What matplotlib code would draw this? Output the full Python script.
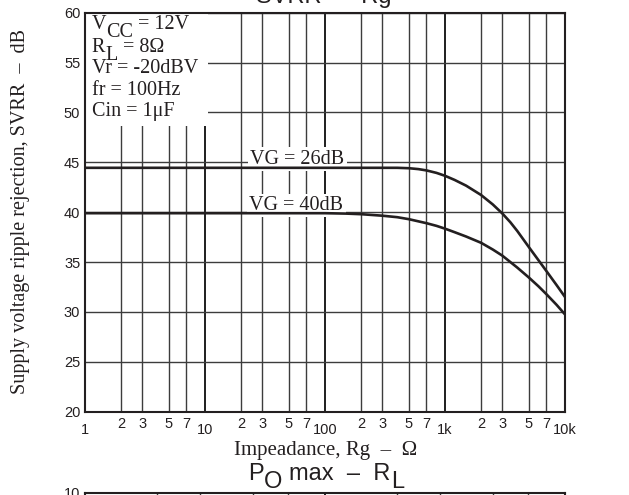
import matplotlib
matplotlib.use('Agg')
import matplotlib.pyplot as plt
from matplotlib.patches import Rectangle

SERIF = 'Liberation Serif'
SANS = 'Liberation Sans'
W, H = 629, 495

# ---- data ----
rg_26 = [1, 10, 100, 200, 300, 400, 500, 600, 700, 850, 1000, 1200, 1500, 2000, 2500, 3000,
         3500, 4000, 5000, 6000, 7000, 8500, 10000]
svrr_vg26 = [44.45, 44.45, 44.45, 44.45, 44.45, 44.45, 44.41, 44.32, 44.19, 43.94, 43.65, 43.24,
             42.66, 41.72, 40.78, 39.88, 39.0, 38.12, 36.5, 35.2, 34.1, 32.7, 31.5]
rg_40 = [1, 10, 100, 150, 200, 300, 400, 500, 700, 850, 1000, 1200, 1500, 2000, 2500, 3000,
         4000, 5000, 6000, 7000, 8500, 10000]
svrr_vg40 = [39.9, 39.9, 39.9, 39.86, 39.8, 39.65, 39.5, 39.3, 38.9, 38.63, 38.35, 38.0, 37.56,
             36.93, 36.26, 35.65, 34.45, 33.45, 32.58, 31.78, 30.72, 29.75]
series_labels = ['VG = 26dB', 'VG = 40dB']
x_major = [1, 10, 100, 1000, 10000]
x_major_labels = ['1', '10', '100', '1k', '10k']
x_minor = [2, 3, 5, 7, 20, 30, 50, 70, 200, 300, 500, 700, 2000, 3000, 5000, 7000]
x_minor_labels = ['2', '3', '5', '7'] * 4
y_ticks = [20, 25, 30, 35, 40, 45, 50, 55, 60]
conditions = ['Vr = -20dBV', 'fr = 100Hz', 'Cin = 1\u03bcF']

fig = plt.figure(figsize=(W / 100, H / 100), dpi=100)

def px_axes(l, t, r, b):
    return [l / W, 1 - b / H, (r - l) / W, (b - t) / H]

ax = fig.add_axes(px_axes(85, 12.7, 565, 411.7))
ax.set_xscale('log')
ax.set_xlim(1, 10000)
ax.set_ylim(20, 60)
ax.set_axisbelow(True)

ax.set_xticks(x_major)
ax.set_xticklabels(x_major_labels)
ax.set_xticks(x_minor, minor=True)
ax.set_xticklabels(x_minor_labels, minor=True)
ax.set_yticks(y_ticks)
ax.set_yticklabels([str(v) for v in y_ticks])
for lab in ax.get_xticklabels(which='both') + ax.get_yticklabels():
    lab.set_family(SANS)
    lab.set_fontsize(10.5)
    lab.set_color('#231f20')
ax.tick_params(which='both', length=0)
ax.tick_params(axis='x', which='minor', pad=4.0)
ax.tick_params(axis='x', which='major', pad=7.8)
ax.tick_params(axis='y', pad=3.4)

ax.grid(True, which='major', axis='x', color='#1e1e1e', lw=1.4)
ax.grid(True, which='minor', axis='x', color='#3c3c3c', lw=1.0)
ax.grid(True, which='major', axis='y', color='#3c3c3c', lw=1.0)
for s in ax.spines.values():
    s.set_linewidth(1.5)
    s.set_color('#231f20')

# white box behind conditions
ax.add_patch(Rectangle((0, 1 - (126 - 12.7) / 399), (208 - 85) / 480, (126 - 12.7) / 399,
                       transform=ax.transAxes, facecolor='white', edgecolor='none', zorder=1))

ax.plot(rg_26, svrr_vg26, color='#231f20', lw=1.9, zorder=3, solid_joinstyle='round')
ax.plot(rg_40, svrr_vg40, color='#231f20', lw=1.9, zorder=3, solid_joinstyle='round')

ax.text(58.5, 44.88, series_labels[0], family=SERIF, size=14.5, ha='center', va='baseline',
        color='#231f20', zorder=2,
        bbox=dict(boxstyle='square,pad=0.12', facecolor='white', edgecolor='none'))
ax.text(57.5, 40.22, series_labels[1], family=SERIF, size=14.5, ha='center', va='baseline',
        color='#231f20', zorder=2,
        bbox=dict(boxstyle='square,pad=0.12', facecolor='white', edgecolor='none'))

renderer = fig.canvas.get_renderer()

def put_segments(x_px, y_px, segs, family, size, align='left'):
    widths = []
    for s, dy, gap in segs:
        t = fig.text(0, 0, s, family=family, size=size)
        widths.append(t.get_window_extent(renderer=renderer).width)
        t.remove()
    total = sum(widths) + sum(g for _, _, g in segs)
    x = x_px - total / 2 if align == 'center' else x_px
    for (s, dy, gap), w in zip(segs, widths):
        x += gap
        fig.text(x / W, 1 - (y_px + dy) / H, s, family=family, size=size,
                 ha='left', va='baseline', color='#231f20')
        x += w

# condition lines
put_segments(91.5, 29.3, [('V', 0, 0), ('CC', 8, 0.5), ('= 12V', 0, 4)], SERIF, 14.5)
put_segments(91.5, 51.5, [('R', 0, 0), ('L', 8, 0.5), ('= 8\u03a9', 0, 5)], SERIF, 14.5)
for i, c in enumerate(conditions):
    fig.text(91.5 / W, 1 - [73.3, 94.8, 115.5][i] / H, c, family=SERIF, size=14.5,
             ha='left', va='baseline', color='#231f20')

# titles
fig.text(323.5 / W, 1 - 3 / H, 'SVRR  \u2013  Rg', family=SANS, size=17, ha='center',
         va='baseline', color='#231f20')
put_segments(326, 480, [('P', 0, 0), ('O', 8, 0.5), ('max  \u2013  R', 0, 7), ('L', 8, 0.5)],
             SANS, 17, align='center')

# axis labels
fig.text(326 / W, 1 - 455 / H, 'Impeadance, Rg  \u2013  \u03a9', family=SERIF, size=15,
         ha='center', va='baseline', color='#231f20')
fig.text(21 / W, 1 - 212 / H, 'Supply voltage ripple rejection, SVRR  \u2013  dB', family=SERIF,
         size=14.5, rotation=90, ha='center', va='center', color='#231f20')

# second (cut-off) chart
ax2 = fig.add_axes(px_axes(85, 493, 565, 900))
ax2.set_xscale('log')
ax2.set_xlim(1, 100)
ax2.set_ylim(0, 10)
ax2.set_axisbelow(True)
ax2.set_xticks([1, 10, 100])
ax2.set_xticks([2, 3, 5, 7, 20, 30, 50, 70], minor=True)
ax2.set_xticklabels([])
ax2.set_xticklabels([], minor=True)
ax2.set_yticks([10])
ax2.set_yticklabels(['10'])
for lab in ax2.get_yticklabels():
    lab.set_family(SANS)
    lab.set_fontsize(10.5)
    lab.set_color('#231f20')
ax2.tick_params(which='both', length=0)
ax2.tick_params(axis='y', pad=3.4)
ax2.grid(True, which='major', axis='x', color='#1e1e1e', lw=1.4)
ax2.grid(True, which='minor', axis='x', color='#3c3c3c', lw=1.0)
for s in ax2.spines.values():
    s.set_linewidth(1.5)
    s.set_color('#231f20')

fig.savefig('out.png', dpi=100)
